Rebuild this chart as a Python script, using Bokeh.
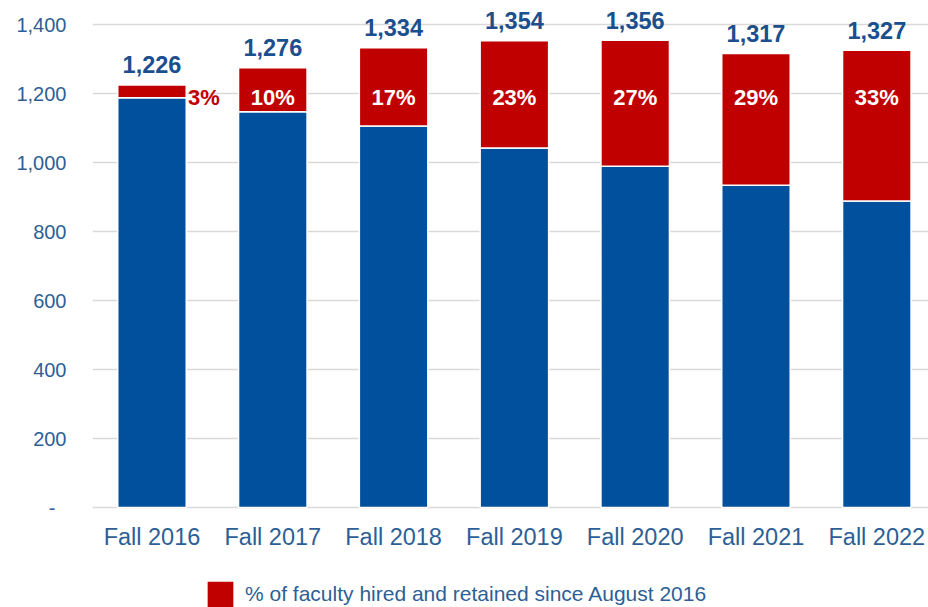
from bokeh.plotting import figure
from bokeh.models import (ColumnDataSource, Legend, LegendItem, FixedTicker, Range1d)
from bokeh.core.properties import value
from bokeh.embed import file_html
from bokeh.resources import INLINE

# ---- data ----
categories = ["Fall 2016", "Fall 2017", "Fall 2018", "Fall 2019", "Fall 2020", "Fall 2021", "Fall 2022"]
totals = [1226, 1276, 1334, 1354, 1356, 1317, 1327]
pct_new = [3, 10, 17, 23, 27, 29, 33]          # % of faculty hired and retained since Aug 2016
y_ticks = [0, 200, 400, 600, 800, 1000, 1200, 1400]
y_tick_labels = ["-\u00a0\u00a0", "200", "400", "600", "800", "1,000", "1,200", "1,400"]
legend_label = "% of faculty hired and retained since August 2016"

red_vals = [round(t * p / 100) for t, p in zip(totals, pct_new)]
blue_vals = [t - r for t, r in zip(totals, red_vals)]
xs = list(range(len(categories)))

BLUE = "#00509E"
RED = "#C00000"
TICK_C = "#2D5F96"
VAL_C = "#1B4F8E"
FONT = "Liberation Sans"
PCT_LABEL_Y = 1190

src = ColumnDataSource(dict(
    x=xs, blue=blue_vals, red=red_vals, total=totals,
    total_label=[f"{t:,}" for t in totals],
))
src_first = ColumnDataSource(dict(x=xs[:1], y=[PCT_LABEL_Y], t=[f"{pct_new[0]}%"]))
src_rest = ColumnDataSource(dict(x=xs[1:], y=[PCT_LABEL_Y] * (len(xs) - 1),
                                 t=[f"{p}%" for p in pct_new[1:]]))

# frame spans the full height; the x axis sits at y = 0 and the legend below it
p = figure(width=928, height=607,
           x_range=Range1d(-0.4925, 6.428), y_range=Range1d(-290, 1471),
           output_backend="svg", toolbar_location=None,
           min_border_top=0, min_border_right=0, min_border_left=92,
           min_border_bottom=0)
p.outline_line_color = None
p.background_fill_color = "white"

rs = p.vbar_stack(["blue", "red"], x="x", width=0.567, color=[BLUE, RED],
                  line_color="white", line_width=1.5, source=src)

# total labels
p.text(x="x", y="total", text="total_label", source=src,
       text_align="center", text_baseline="alphabetic", y_offset=-20,
       text_font=value(FONT), text_font_style="bold", text_font_size="23.5px",
       text_color=VAL_C)
# percentage labels
p.text(x="x", y="y", text="t", source=src_rest,
       text_align="center", text_baseline="middle",
       text_font=value(FONT), text_font_style="bold", text_font_size="22px",
       text_color="white")
p.text(x="x", y="y", text="t", source=src_first,
       text_align="left", text_baseline="middle", x_offset=36,
       text_font=value(FONT), text_font_style="bold", text_font_size="22px",
       text_color=RED)

# axes
p.yaxis.ticker = FixedTicker(ticks=y_ticks)
p.yaxis.major_label_overrides = {t: l for t, l in zip(y_ticks, y_tick_labels)}
p.xaxis.ticker = FixedTicker(ticks=xs)
p.xaxis.major_label_overrides = {i: c for i, c in zip(xs, categories)}
p.xaxis.fixed_location = 0
for ax in (p.xaxis, p.yaxis):
    ax.axis_line_color = None
    ax.major_tick_line_color = None
    ax.minor_tick_line_color = None
    ax.major_tick_out = 0
    ax.major_tick_in = 0
    ax.major_label_text_font = FONT
    ax.major_label_text_color = TICK_C
p.yaxis.major_label_text_font_size = "20px"
p.yaxis.major_label_standoff = 26
p.xaxis.major_label_text_font_size = "23.5px"
p.xaxis.major_label_standoff = 16

p.xgrid.grid_line_color = None
p.ygrid.ticker = FixedTicker(ticks=y_ticks)
p.ygrid.grid_line_color = "#D9D9D9"
p.ygrid.grid_line_width = 1.5

legend = Legend(items=[LegendItem(label=legend_label, renderers=[rs[1]])],
                location=(111, -4), glyph_width=34, glyph_height=34,
                label_standoff=8, padding=0, margin=0, spacing=0,
                border_line_color=None, background_fill_alpha=0,
                label_text_font=FONT, label_text_font_size="21px",
                label_text_color=TICK_C)
p.add_layout(legend, "center")

open("out.html", "w").write(file_html(p, INLINE))
